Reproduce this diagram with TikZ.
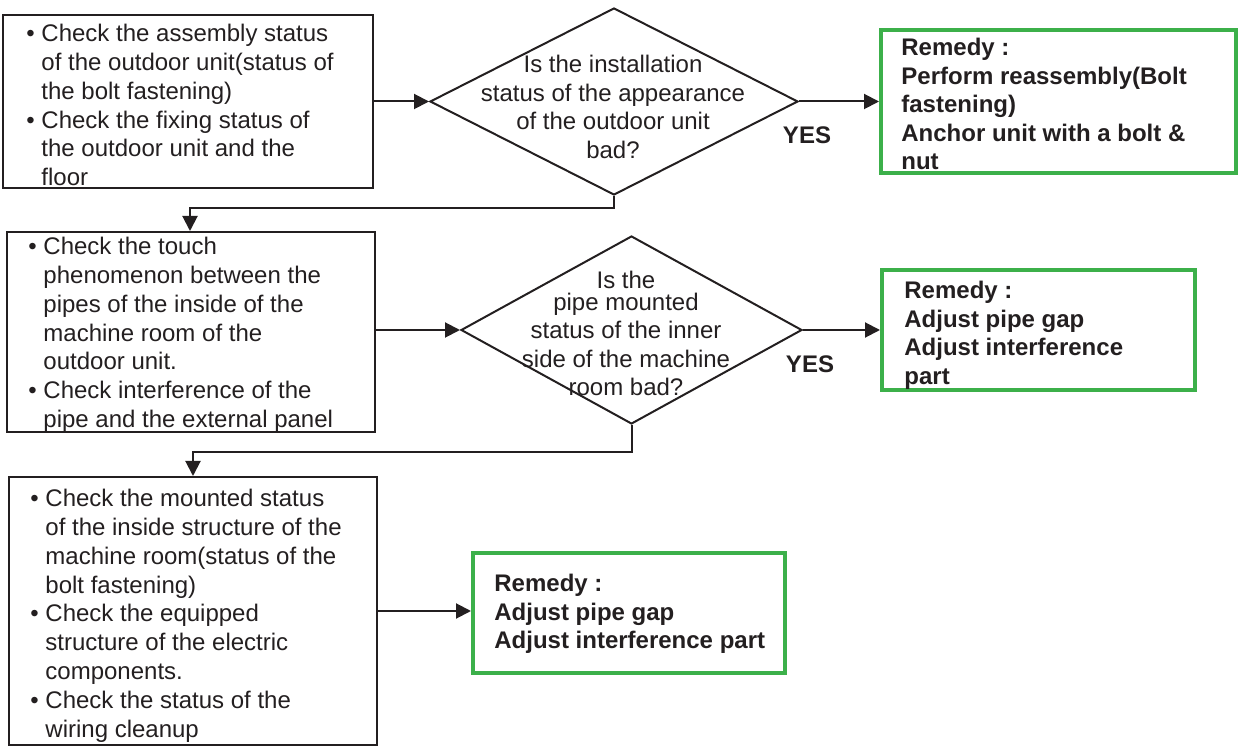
\documentclass[tikz,border=0pt]{standalone}
\usepackage{fontspec}
\setmainfont{Liberation Sans}
\usetikzlibrary{arrows.meta,shapes.geometric}
\definecolor{ink}{HTML}{231F20}
\definecolor{leaf}{HTML}{3CB04A}
\tikzset{box/.style={draw=ink,line width=1pt,inner sep=0pt},
  remedy/.style={draw=leaf,line width=2pt,inner sep=0pt},
  decision/.style={diamond,draw=ink,line width=1pt,inner sep=0pt},
  txt/.style={anchor=north west,inner sep=0pt,align=left,text=ink,
    font=\fontsize{12}{14.4}\selectfont},
  remtxt/.style={txt,font=\fontsize{12}{14.25}\selectfont\bfseries},
  qtxt/.style={anchor=north,inner sep=0pt,align=center,text=ink,
    font=\fontsize{12}{14.25}\selectfont},
  yes/.style={inner sep=0pt,text=ink,font=\fontsize{12}{14}\selectfont\bfseries},
  arrow/.style={-{Triangle[length=7.5pt,width=7.5pt]},line width=1pt,draw=ink}}
\newcommand{\bul}{\textbullet\ }
\newcommand{\bpad}{\phantom{\textbullet\ }}

\begin{document}
\begin{tikzpicture}[x=0.5pt,y=-0.5pt]
\useasboundingbox (0,0) rectangle (1238,748);
% first check
\node[box,minimum width=185pt,minimum height=86.5pt] (chk1) at (188,101.5) {};
\node[txt] (chk1t) at (26,24) {\bul Check the assembly status\\
  \bpad of the outdoor unit(status of\\
  \bpad the bolt fastening)\\
  \bul Check the fixing status of\\
  \bpad the outdoor unit and the\\
  \bpad floor};
\node[decision,minimum width=184pt,minimum height=93.5pt] (d1) at (614,101.5) {};
\node[qtxt] (d1t) at (613,55) {Is the installation\\status of the appearance\\of the outdoor unit\\bad?};
\node[remedy,minimum width=177.5pt,minimum height=71.5pt] (g1) at (1058.5,101.5) {};
\node[remtxt] (g1t) at (901,38) {Remedy :\\Perform reassembly(Bolt\\fastening)\\Anchor unit with a bolt \&\\nut};
\node[yes] (yes1) at (807,135) {YES};
% second check
\node[box,minimum width=184pt,minimum height=100pt] (chk2) at (191,332) {};
\node[txt] (chk2t) at (28,237) {\bul Check the touch\\
  \bpad phenomenon between the\\
  \bpad pipes of the inside of the\\
  \bpad machine room of the\\
  \bpad outdoor unit.\\
  \bul Check interference of the\\
  \bpad pipe and the external panel};
\node[decision,minimum width=170.5pt,minimum height=94pt] (d2) at (631.5,330) {};
\node[qtxt] (d2t) at (626,271) {Is the\\[-3.5pt]pipe mounted\\status of the inner\\side of the machine\\room bad?};
\node[remedy,minimum width=156.5pt,minimum height=60pt] (g2) at (1038.5,330) {};
\node[remtxt] (g2t) at (904,281) {Remedy :\\Adjust pipe gap\\Adjust interference\\part};
\node[yes] (yes2) at (810,364) {YES};
% third check
\node[box,minimum width=184pt,minimum height=134pt] (chk3) at (193,611) {};
\node[txt] (chk3t) at (30,489) {\bul Check the mounted status\\
  \bpad of the inside structure of the\\
  \bpad machine room(status of the\\
  \bpad bolt fastening)\\
  \bul Check the equipped\\
  \bpad structure of the electric\\
  \bpad components.\\
  \bul Check the status of the\\
  \bpad wiring cleanup};
\node[remedy,minimum width=156pt,minimum height=60pt] (g3) at (629,613) {};
\node[remtxt] (g3t) at (494,574) {Remedy :\\Adjust pipe gap\\Adjust interference part};
% connectors
\coordinate (j1) at (190,208);
\coordinate (j2) at (193,452);
\draw[arrow] (chk1.east) -- (chk1.east -| d1.west);
\draw[arrow] (d1.east) -- (g1.west);
\draw[arrow] (d1.south) |- (j1) -- (j1 |- chk2.north);
\draw[arrow] (chk2.east |- d2.west) -- (d2.west);
\draw[arrow] (d2.east) -- (g2.west);
\draw[arrow] (d2.south) |- (j2) -- (j2 |- chk3.north);
\draw[arrow] (chk3.east) -- (chk3.east -| g3.west);
\end{tikzpicture}
\end{document}
